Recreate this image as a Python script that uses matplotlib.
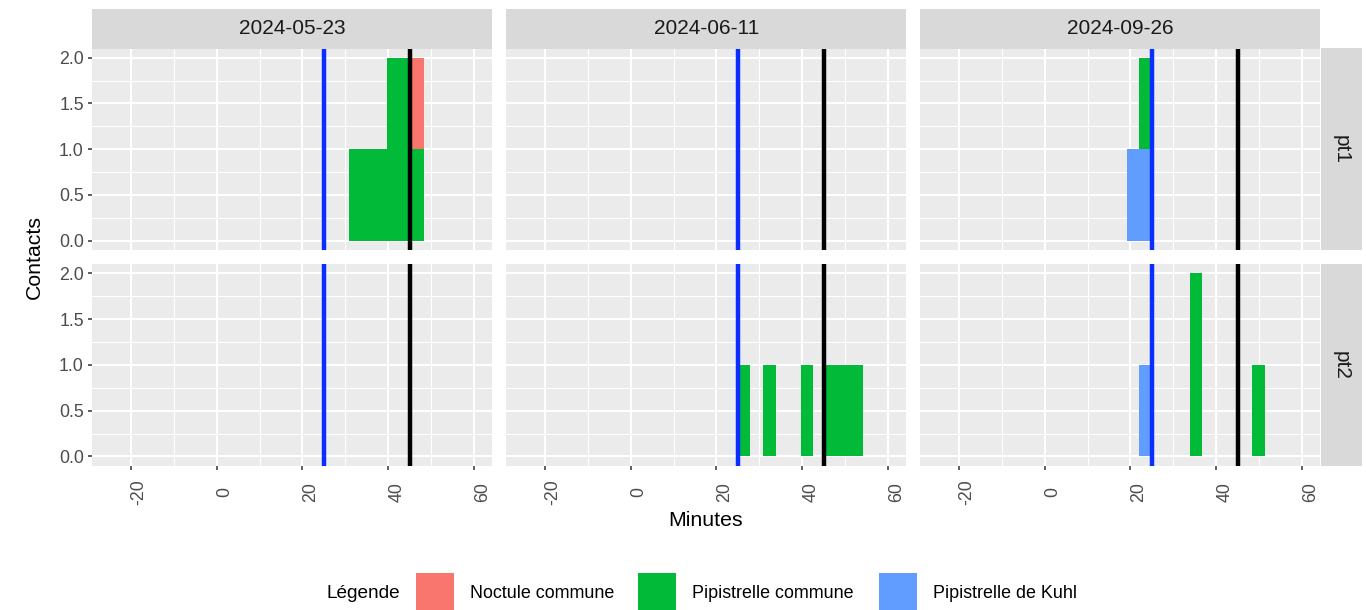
import numpy as np
import matplotlib.pyplot as plt
from matplotlib.patches import Rectangle

plt.rcParams['font.family'] = ['Liberation Sans', 'DejaVu Sans']
plt.rcParams['axes.unicode_minus'] = False

# facets
dates = ['2024-05-23', '2024-06-11', '2024-09-26']
points = ['pt1', 'pt2']

# species, drawn bottom to top in each stack
species = ['Pipistrelle de Kuhl', 'Pipistrelle commune', 'Noctule commune']
species_colors = {'Noctule commune': '#F8766D',
                  'Pipistrelle commune': '#00BA38',
                  'Pipistrelle de Kuhl': '#619CFF'}
legend_order = ['Noctule commune', 'Pipistrelle commune', 'Pipistrelle de Kuhl']

# histogram bins (minutes after sunset)
bin_start = 19.15
bin_width = 2.92

# binned contacts: one row per (date, point, species, bin centre)
obs_date = ['2024-05-23'] * 7 + ['2024-06-11'] * 6 + ['2024-09-26'] * 6
obs_point = ['pt1'] * 7 + ['pt2'] * 6 + ['pt1'] * 3 + ['pt2'] * 3
obs_species = (['Pipistrelle commune'] * 6 + ['Noctule commune']
               + ['Pipistrelle commune'] * 6
               + ['Pipistrelle de Kuhl', 'Pipistrelle de Kuhl', 'Pipistrelle commune']
               + ['Pipistrelle de Kuhl', 'Pipistrelle commune', 'Pipistrelle commune'])
obs_bin = [4, 5, 6, 7, 8, 9, 9,
           2, 4, 7, 9, 10, 11,
           0, 1, 1,
           1, 5, 10]
obs_count = [1, 1, 1, 2, 2, 1, 1,
             1, 1, 1, 1, 1, 1,
             1, 1, 1,
             1, 2, 1]

# reference times
sunset_line = 25
night_line = 45

W, H = 1366, 610
fig = plt.figure(figsize=(W / 100, H / 100), dpi=100)


def px_axes(x0, y0, x1, y1):
    return fig.add_axes([x0 / W, 1 - y1 / H, (x1 - x0) / W, (y1 - y0) / H])


col_x = [92, 506, 920]
row_y = [48.5, 264.3]
pw, ph = 400.3, 201.3

obs_bin = np.array(obs_bin)
obs_count = np.array(obs_count)
obs_date = np.array(obs_date)
obs_point = np.array(obs_point)
obs_species = np.array(obs_species)
nbins = obs_bin.max() + 1
centers = bin_start + bin_width * (np.arange(nbins) + 0.5)

for r, pt in enumerate(points):
    for c, d in enumerate(dates):
        ax = px_axes(col_x[c], row_y[r], col_x[c] + pw, row_y[r] + ph)
        ax.set_facecolor('#EBEBEB')
        for s in ax.spines.values():
            s.set_visible(False)
        ax.set_xlim(-29.0, 64.2)
        ax.set_ylim(-0.1, 2.1)
        ax.set_xticks([-20, 0, 20, 40, 60])
        ax.set_xticks([-10, 10, 30, 50], minor=True)
        ax.set_yticks([0, 0.5, 1, 1.5, 2])
        ax.set_yticks([0.25, 0.75, 1.25, 1.75], minor=True)
        ax.grid(which='major', color='white', lw=1.45)
        ax.grid(which='minor', color='white', lw=0.72)
        ax.set_axisbelow(True)
        ax.tick_params(which='minor', length=0)
        ax.tick_params(which='major', color='#333333', width=1.1, length=2.9,
                       labelcolor='#4D4D4D', labelsize=12.8)

        bottom = np.zeros(nbins)
        for sp in species:
            sel = (obs_date == d) & (obs_point == pt) & (obs_species == sp)
            h = np.zeros(nbins)
            np.add.at(h, obs_bin[sel], obs_count[sel])
            ax.bar(centers, h, width=bin_width, bottom=bottom,
                   color=species_colors[sp], linewidth=0, zorder=2)
            bottom += h

        ax.axvline(sunset_line, color='#0A2EFF', lw=3.2, zorder=3)
        ax.axvline(night_line, color='black', lw=3.2, zorder=3)

        if c == 0:
            ax.set_yticklabels(['0.0', '0.5', '1.0', '1.5', '2.0'])
            ax.tick_params(axis='y', pad=3)
        else:
            ax.tick_params(axis='y', length=0, labelleft=False)
        if r == 1:
            ax.set_xticks([-20, 0, 20, 40, 60], ['-20', '0', '20', '40', '60'],
                          rotation=90, ha='left', va='center')
            ax.tick_params(axis='x', pad=16.1)
        else:
            ax.tick_params(axis='x', length=0, labelbottom=False)

# strips
for c, d in enumerate(dates):
    sa = px_axes(col_x[c], 9, col_x[c] + pw, row_y[0])
    sa.set_facecolor('#D9D9D9')
    sa.set_xticks([])
    sa.set_yticks([])
    for s in sa.spines.values():
        s.set_visible(False)
    sa.text(0.5, 0.5, d, ha='center', va='center', fontsize=15, color='#1A1A1A',
            transform=sa.transAxes)

for r, pt in enumerate(points):
    sa = px_axes(1321, row_y[r], 1362, row_y[r] + ph)
    sa.set_facecolor('#D9D9D9')
    sa.set_xticks([])
    sa.set_yticks([])
    for s in sa.spines.values():
        s.set_visible(False)
    sa.text(0.5, 0.5, pt, ha='center', va='center', rotation=-90, fontsize=15,
            color='#1A1A1A', transform=sa.transAxes)

fig.text(34 / W, 1 - 257 / H, 'Contacts', rotation=90, ha='center', va='center',
         fontsize=15.3)
fig.text(706 / W, 1 - 521 / H, 'Minutes', ha='center', va='center', fontsize=15.3)

# legend
fig.text(326 / W, 1 - 593 / H, 'Légende', ha='left', va='center', fontsize=13.7)
key_x = [416, 638.3, 879.3]
for kx, sp in zip(key_x, legend_order):
    fig.add_artist(Rectangle((kx / W, 1 - 612 / H), 38 / W, 39.3 / H,
                             transform=fig.transFigure, color=species_colors[sp],
                             lw=0))
    fig.text((kx + 53.5) / W, 1 - 593 / H, sp, ha='left', va='center', fontsize=12.9)

fig.savefig('out.png', dpi=100)
